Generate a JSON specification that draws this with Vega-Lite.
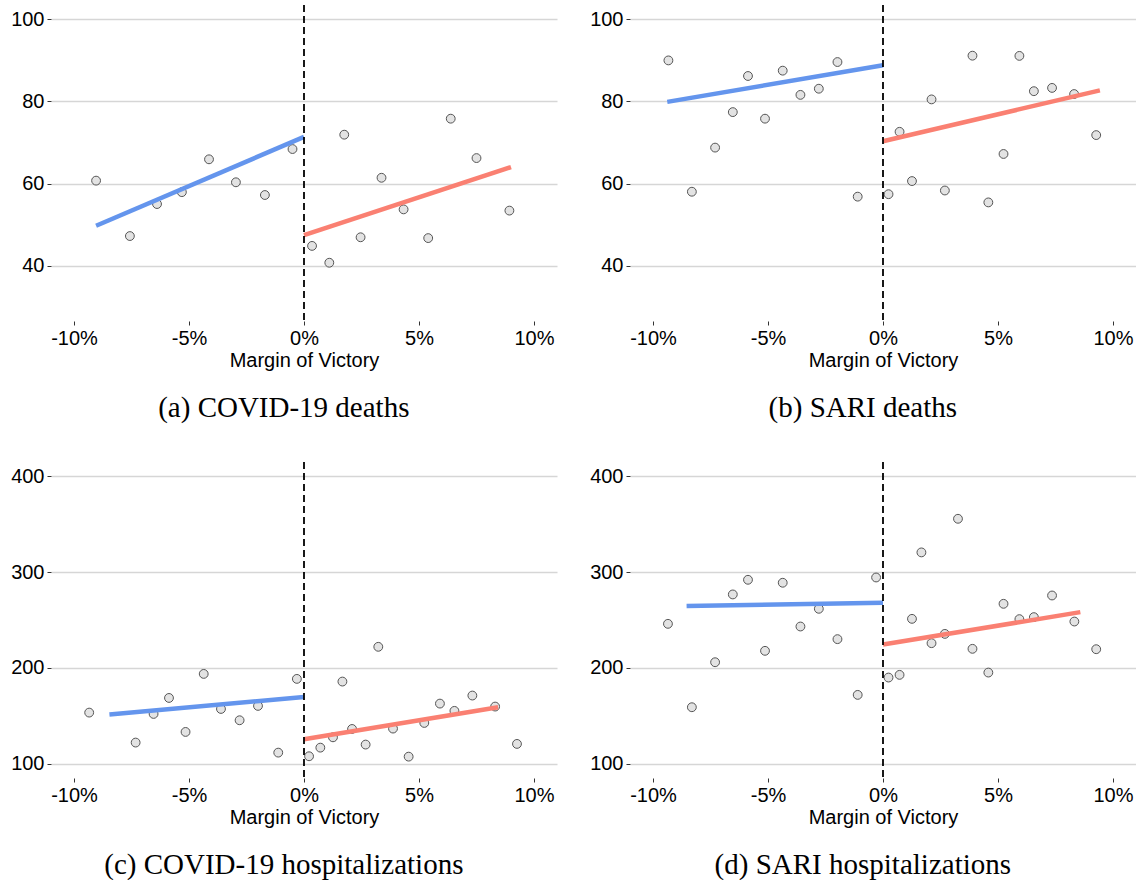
{
  "$schema": "https://vega.github.io/schema/vega-lite/v6.json",
  "background": "white",
  "padding": {"left": 10, "top": 4, "right": 0, "bottom": 0},
  "datasets": {
    "points": [
      {"panel": "a", "margin": -9.04, "value": 60.7},
      {"panel": "a", "margin": -7.57, "value": 47.2},
      {"panel": "a", "margin": -6.39, "value": 55.0},
      {"panel": "a", "margin": -5.31, "value": 57.9},
      {"panel": "a", "margin": -4.13, "value": 65.9},
      {"panel": "a", "margin": -2.96, "value": 60.3},
      {"panel": "a", "margin": -1.70, "value": 57.2},
      {"panel": "a", "margin": -0.50, "value": 68.4},
      {"panel": "a", "margin": 0.35, "value": 44.8},
      {"panel": "a", "margin": 1.10, "value": 40.7},
      {"panel": "a", "margin": 1.75, "value": 71.9},
      {"panel": "a", "margin": 2.46, "value": 46.9},
      {"panel": "a", "margin": 3.37, "value": 61.4},
      {"panel": "a", "margin": 4.33, "value": 53.7},
      {"panel": "a", "margin": 5.40, "value": 46.7},
      {"panel": "a", "margin": 6.38, "value": 75.8},
      {"panel": "a", "margin": 7.50, "value": 66.2},
      {"panel": "a", "margin": 8.93, "value": 53.4},
      {"panel": "b", "margin": -9.33, "value": 90.0},
      {"panel": "b", "margin": -8.31, "value": 58.0},
      {"panel": "b", "margin": -7.30, "value": 68.75},
      {"panel": "b", "margin": -6.53, "value": 77.4},
      {"panel": "b", "margin": -5.87, "value": 86.2},
      {"panel": "b", "margin": -5.13, "value": 75.8},
      {"panel": "b", "margin": -4.36, "value": 87.5},
      {"panel": "b", "margin": -3.59, "value": 81.6},
      {"panel": "b", "margin": -2.79, "value": 83.1},
      {"panel": "b", "margin": -1.98, "value": 89.6},
      {"panel": "b", "margin": -1.10, "value": 56.8},
      {"panel": "b", "margin": 0.24, "value": 57.4},
      {"panel": "b", "margin": 0.72, "value": 72.6},
      {"panel": "b", "margin": 1.26, "value": 60.6},
      {"panel": "b", "margin": 2.11, "value": 80.5},
      {"panel": "b", "margin": 2.69, "value": 58.3},
      {"panel": "b", "margin": 3.89, "value": 91.15},
      {"panel": "b", "margin": 4.58, "value": 55.4},
      {"panel": "b", "margin": 5.24, "value": 67.2},
      {"panel": "b", "margin": 5.93, "value": 91.1},
      {"panel": "b", "margin": 6.56, "value": 82.5},
      {"panel": "b", "margin": 7.35, "value": 83.3},
      {"panel": "b", "margin": 8.31, "value": 81.8},
      {"panel": "b", "margin": 9.27, "value": 71.8},
      {"panel": "c", "margin": -9.34, "value": 153.3},
      {"panel": "c", "margin": -7.32, "value": 122.0},
      {"panel": "c", "margin": -6.54, "value": 151.9},
      {"panel": "c", "margin": -5.87, "value": 168.6},
      {"panel": "c", "margin": -5.15, "value": 133.1},
      {"panel": "c", "margin": -4.36, "value": 193.7},
      {"panel": "c", "margin": -3.61, "value": 157.1},
      {"panel": "c", "margin": -2.80, "value": 145.3},
      {"panel": "c", "margin": -2.00, "value": 160.3},
      {"panel": "c", "margin": -1.12, "value": 111.5},
      {"panel": "c", "margin": -0.31, "value": 188.5},
      {"panel": "c", "margin": 0.22, "value": 107.7},
      {"panel": "c", "margin": 0.71, "value": 116.7},
      {"panel": "c", "margin": 1.26, "value": 127.5},
      {"panel": "c", "margin": 1.67, "value": 185.7},
      {"panel": "c", "margin": 2.09, "value": 136.2},
      {"panel": "c", "margin": 2.68, "value": 119.9},
      {"panel": "c", "margin": 3.23, "value": 222.0},
      {"panel": "c", "margin": 3.87, "value": 136.6},
      {"panel": "c", "margin": 4.55, "value": 107.3},
      {"panel": "c", "margin": 5.23, "value": 142.5},
      {"panel": "c", "margin": 5.91, "value": 162.7},
      {"panel": "c", "margin": 6.54, "value": 155.1},
      {"panel": "c", "margin": 7.32, "value": 171.1},
      {"panel": "c", "margin": 8.31, "value": 159.6},
      {"panel": "c", "margin": 9.26, "value": 120.6},
      {"panel": "d", "margin": -9.35, "value": 246.0},
      {"panel": "d", "margin": -8.31, "value": 158.9},
      {"panel": "d", "margin": -7.30, "value": 205.9},
      {"panel": "d", "margin": -6.53, "value": 276.7},
      {"panel": "d", "margin": -5.87, "value": 292.0},
      {"panel": "d", "margin": -5.13, "value": 217.8},
      {"panel": "d", "margin": -4.36, "value": 288.9},
      {"panel": "d", "margin": -3.59, "value": 243.2},
      {"panel": "d", "margin": -2.79, "value": 261.7},
      {"panel": "d", "margin": -1.98, "value": 230.0},
      {"panel": "d", "margin": -1.10, "value": 171.8},
      {"panel": "d", "margin": -0.30, "value": 294.4},
      {"panel": "d", "margin": 0.24, "value": 189.9},
      {"panel": "d", "margin": 0.72, "value": 192.7},
      {"panel": "d", "margin": 1.26, "value": 251.2},
      {"panel": "d", "margin": 1.67, "value": 320.6},
      {"panel": "d", "margin": 2.11, "value": 225.8},
      {"panel": "d", "margin": 2.69, "value": 235.5},
      {"panel": "d", "margin": 3.26, "value": 355.7},
      {"panel": "d", "margin": 3.89, "value": 219.9},
      {"panel": "d", "margin": 4.58, "value": 195.1},
      {"panel": "d", "margin": 5.24, "value": 266.9},
      {"panel": "d", "margin": 5.93, "value": 250.9},
      {"panel": "d", "margin": 6.56, "value": 253.0},
      {"panel": "d", "margin": 7.35, "value": 275.6},
      {"panel": "d", "margin": 8.32, "value": 248.4},
      {"panel": "d", "margin": 9.27, "value": 219.5}
    ],
    "fits": [
      {"panel": "a", "side": "left", "margin": -9.04, "value": 49.7},
      {"panel": "a", "side": "left", "margin": 0, "value": 71.35},
      {"panel": "a", "side": "right", "margin": 0, "value": 47.4},
      {"panel": "a", "side": "right", "margin": 9.0, "value": 64.0},
      {"panel": "b", "side": "left", "margin": -9.38, "value": 79.9},
      {"panel": "b", "side": "left", "margin": 0, "value": 88.8},
      {"panel": "b", "side": "right", "margin": 0, "value": 70.3},
      {"panel": "b", "side": "right", "margin": 9.43, "value": 82.7},
      {"panel": "c", "side": "left", "margin": -8.46, "value": 151.2},
      {"panel": "c", "side": "left", "margin": 0, "value": 169.7},
      {"panel": "c", "side": "right", "margin": 0, "value": 125.4},
      {"panel": "c", "side": "right", "margin": 8.44, "value": 158.9},
      {"panel": "d", "side": "left", "margin": -8.54, "value": 264.5},
      {"panel": "d", "side": "left", "margin": 0, "value": 267.9},
      {"panel": "d", "side": "right", "margin": 0, "value": 224.4},
      {"panel": "d", "side": "right", "margin": 8.58, "value": 258.2}
    ]
  },
  "columns": 2,
  "spacing": {"row": 38, "column": 32},
  "concat": [
    {
      "width": 506, "height": 316,
      "title": {"text": "(a) COVID-19 deaths"},
      "layer": [
        {
          "data": {"name": "points"},
          "transform": [{"filter": "datum.panel === 'a'"}],
          "mark": {"type": "point", "filled": true, "fill": "#e3e3e3", "stroke": "#555555", "strokeWidth": 1, "size": 78, "opacity": 1},
          "encoding": {
            "x": {"field": "margin", "type": "quantitative", "scale": {"domain": [-11, 11], "nice": false}, "axis": {"values": [-10, -5, 0, 5, 10], "labelExpr": "datum.value + '%'", "title": "Margin of Victory", "grid": false}},
            "y": {"field": "value", "type": "quantitative", "scale": {"domain": [26.5, 103.5], "nice": false, "zero": false}, "axis": {"values": [40, 60, 80, 100], "title": null, "grid": true}}
          }
        },
        {
          "data": {"name": "fits"},
          "transform": [{"filter": "datum.panel === 'a'"}],
          "mark": {"type": "line", "strokeWidth": 4.5},
          "encoding": {
            "x": {"field": "margin", "type": "quantitative"},
            "y": {"field": "value", "type": "quantitative"},
            "color": {"field": "side", "type": "nominal", "scale": {"domain": ["left", "right"], "range": ["#6495ED", "#FA8072"]}, "legend": null}
          }
        },
        {
          "data": {"values": [{}]},
          "mark": {"type": "rule", "color": "#000000", "strokeWidth": 1.8, "strokeDash": [7, 4]},
          "encoding": {"x": {"datum": 0}}
        }
      ]
    },
    {
      "width": 506, "height": 316,
      "title": {"text": "(b) SARI deaths"},
      "layer": [
        {
          "data": {"name": "points"},
          "transform": [{"filter": "datum.panel === 'b'"}],
          "mark": {"type": "point", "filled": true, "fill": "#e3e3e3", "stroke": "#555555", "strokeWidth": 1, "size": 78, "opacity": 1},
          "encoding": {
            "x": {"field": "margin", "type": "quantitative", "scale": {"domain": [-11, 11], "nice": false}, "axis": {"values": [-10, -5, 0, 5, 10], "labelExpr": "datum.value + '%'", "title": "Margin of Victory", "grid": false}},
            "y": {"field": "value", "type": "quantitative", "scale": {"domain": [26.5, 103.5], "nice": false, "zero": false}, "axis": {"values": [40, 60, 80, 100], "title": null, "grid": true}}
          }
        },
        {
          "data": {"name": "fits"},
          "transform": [{"filter": "datum.panel === 'b'"}],
          "mark": {"type": "line", "strokeWidth": 4.5},
          "encoding": {
            "x": {"field": "margin", "type": "quantitative"},
            "y": {"field": "value", "type": "quantitative"},
            "color": {"field": "side", "type": "nominal", "scale": {"domain": ["left", "right"], "range": ["#6495ED", "#FA8072"]}, "legend": null}
          }
        },
        {
          "data": {"values": [{}]},
          "mark": {"type": "rule", "color": "#000000", "strokeWidth": 1.8, "strokeDash": [7, 4]},
          "encoding": {"x": {"datum": 0}}
        }
      ]
    },
    {
      "width": 506, "height": 316,
      "title": {"text": "(c) COVID-19 hospitalizations"},
      "layer": [
        {
          "data": {"name": "points"},
          "transform": [{"filter": "datum.panel === 'c'"}],
          "mark": {"type": "point", "filled": true, "fill": "#e3e3e3", "stroke": "#555555", "strokeWidth": 1, "size": 78, "opacity": 1},
          "encoding": {
            "x": {"field": "margin", "type": "quantitative", "scale": {"domain": [-11, 11], "nice": false}, "axis": {"values": [-10, -5, 0, 5, 10], "labelExpr": "datum.value + '%'", "title": "Margin of Victory", "grid": false}},
            "y": {"field": "value", "type": "quantitative", "scale": {"domain": [85, 415], "nice": false, "zero": false}, "axis": {"values": [100, 200, 300, 400], "title": null, "grid": true}}
          }
        },
        {
          "data": {"name": "fits"},
          "transform": [{"filter": "datum.panel === 'c'"}],
          "mark": {"type": "line", "strokeWidth": 4.5},
          "encoding": {
            "x": {"field": "margin", "type": "quantitative"},
            "y": {"field": "value", "type": "quantitative"},
            "color": {"field": "side", "type": "nominal", "scale": {"domain": ["left", "right"], "range": ["#6495ED", "#FA8072"]}, "legend": null}
          }
        },
        {
          "data": {"values": [{}]},
          "mark": {"type": "rule", "color": "#000000", "strokeWidth": 1.8, "strokeDash": [7, 4]},
          "encoding": {"x": {"datum": 0}}
        }
      ]
    },
    {
      "width": 506, "height": 316,
      "title": {"text": "(d) SARI hospitalizations"},
      "layer": [
        {
          "data": {"name": "points"},
          "transform": [{"filter": "datum.panel === 'd'"}],
          "mark": {"type": "point", "filled": true, "fill": "#e3e3e3", "stroke": "#555555", "strokeWidth": 1, "size": 78, "opacity": 1},
          "encoding": {
            "x": {"field": "margin", "type": "quantitative", "scale": {"domain": [-11, 11], "nice": false}, "axis": {"values": [-10, -5, 0, 5, 10], "labelExpr": "datum.value + '%'", "title": "Margin of Victory", "grid": false}},
            "y": {"field": "value", "type": "quantitative", "scale": {"domain": [85, 415], "nice": false, "zero": false}, "axis": {"values": [100, 200, 300, 400], "title": null, "grid": true}}
          }
        },
        {
          "data": {"name": "fits"},
          "transform": [{"filter": "datum.panel === 'd'"}],
          "mark": {"type": "line", "strokeWidth": 4.5},
          "encoding": {
            "x": {"field": "margin", "type": "quantitative"},
            "y": {"field": "value", "type": "quantitative"},
            "color": {"field": "side", "type": "nominal", "scale": {"domain": ["left", "right"], "range": ["#6495ED", "#FA8072"]}, "legend": null}
          }
        },
        {
          "data": {"values": [{}]},
          "mark": {"type": "rule", "color": "#000000", "strokeWidth": 1.8, "strokeDash": [7, 4]},
          "encoding": {"x": {"datum": 0}}
        }
      ]
    }
  ],
  "config": {
    "view": {"stroke": null},
    "axis": {
      "domain": false,
      "labelFont": "Liberation Sans",
      "labelFontSize": 20,
      "labelColor": "#000000",
      "labelPadding": 3,
      "titleFont": "Liberation Sans",
      "titleFontSize": 20,
      "titleFontWeight": "normal",
      "titleColor": "#000000",
      "titlePadding": 2,
      "tickColor": "#333333",
      "tickSize": 4,
      "tickWidth": 1,
      "gridColor": "#d6d6d6",
      "gridWidth": 1.5
    },
    "title": {
      "orient": "bottom",
      "font": "Liberation Serif",
      "fontSize": 29,
      "fontWeight": "normal",
      "color": "#000000",
      "offset": 24,
      "anchor": "middle",
      "frame": "bounds"
    }
  }
}
